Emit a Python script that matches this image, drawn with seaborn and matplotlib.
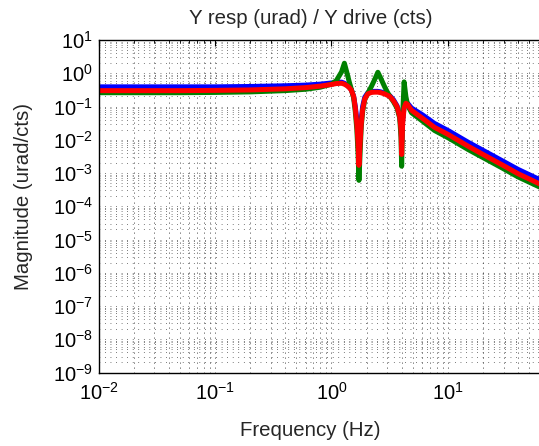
"""Bode magnitude plot: Y resp / Y drive."""

import matplotlib
matplotlib.use("Agg")
import matplotlib.pyplot as plt
import matplotlib.ticker as mticker
import pandas as pd
import seaborn as sns

# frequency points (Hz) shared by the three traces
freq = [0.01, 0.05, 0.1, 0.2, 0.4, 0.6, 0.8, 1.0, 1.1, 1.22, 1.29, 1.36, 1.42,
        1.48, 1.55, 1.6, 1.65, 1.69, 1.72, 1.76, 1.8, 1.85, 1.93, 2.05, 2.2,
        2.35, 2.5, 2.65, 2.85, 3.0, 3.17, 3.4, 3.65, 3.85, 3.95, 4.0, 4.08,
        4.2, 4.35, 4.5, 4.86, 6.0, 7.66, 10, 15, 20, 28.8, 40, 62, 100]

mag_blue = [0.39, 0.39, 0.39, 0.40, 0.42, 0.44, 0.47, 0.51, 0.53, 0.54, 0.50,
            0.44, 0.38, 0.32, 0.20, 0.10, 0.04, 0.012, 0.004, 0.012, 0.04,
            0.10, 0.19, 0.26, 0.28, 0.285, 0.285, 0.275, 0.255, 0.235, 0.21,
            0.16, 0.105, 0.055, 0.025, 0.008, 0.04, 0.10, 0.13, 0.125, 0.09,
            0.057, 0.031, 0.019, 0.0083, 0.0048, 0.0024, 0.00128, 0.00062,
            0.00025]

mag_green = [0.26, 0.26, 0.265, 0.275, 0.30, 0.33, 0.38, 0.47, 0.6, 1.1, 2.0,
             1.0, 0.55, 0.33, 0.18, 0.07, 0.02, 0.004, 0.0006, 0.004, 0.025,
             0.07, 0.16, 0.25, 0.4, 0.65, 1.07, 0.7, 0.4, 0.28, 0.2, 0.14,
             0.09, 0.045, 0.012, 0.0016, 0.05, 0.55, 0.2, 0.11, 0.065, 0.037,
             0.019, 0.0115, 0.005, 0.0029, 0.00145, 0.00076, 0.00037, 0.00015]

mag_red = [0.30, 0.30, 0.305, 0.315, 0.34, 0.37, 0.41, 0.46, 0.49, 0.50, 0.47,
           0.42, 0.37, 0.31, 0.20, 0.09, 0.03, 0.008, 0.0017, 0.008, 0.03,
           0.08, 0.17, 0.24, 0.265, 0.27, 0.27, 0.26, 0.24, 0.22, 0.20, 0.15,
           0.10, 0.05, 0.02, 0.0036, 0.03, 0.09, 0.125, 0.115, 0.077, 0.045,
           0.0236, 0.0145, 0.0063, 0.0036, 0.0018, 0.00095, 0.00046, 0.00018]

trace_names = ["blue", "green", "red"]
trace_colors = ["#0000ff", "#008000", "#ff0000"]

x_ticks = [1e-2, 1e-1, 1e0, 1e1]
y_ticks = [10.0 ** k for k in range(-9, 2)]


def main() -> None:
    sns.set_style("white")
    plt.rcParams["font.family"] = ["Liberation Sans", "DejaVu Sans"]
    plt.rcParams["mathtext.default"] = "regular"

    df = pd.DataFrame({"freq": freq, "blue": mag_blue,
                       "green": mag_green, "red": mag_red})
    long = df.melt(id_vars="freq", var_name="trace", value_name="mag")

    fig = plt.figure(figsize=(5.39, 4.46), dpi=100)
    # axes runs past the right edge of the picture, as in the original
    ax = fig.add_axes([98.5 / 539, 73.5 / 446, 466 / 539, 332.5 / 446])
    ax.set_xscale("log")
    ax.set_yscale("log")

    sns.lineplot(data=long, x="freq", y="mag", hue="trace",
                 hue_order=trace_names, palette=trace_colors,
                 linewidth=3.6, legend=False, sort=False, ax=ax)

    ax.set_xlim(1e-2, 1e2)
    ax.set_ylim(1e-9, 1e1)
    ax.xaxis.set_major_locator(mticker.FixedLocator(x_ticks))
    ax.yaxis.set_major_locator(mticker.FixedLocator(y_ticks))
    ax.xaxis.set_major_formatter(mticker.LogFormatterSciNotation())
    ax.yaxis.set_major_formatter(mticker.LogFormatterSciNotation())
    ax.xaxis.set_minor_locator(mticker.LogLocator(subs=range(2, 10), numticks=50))
    ax.yaxis.set_minor_locator(mticker.LogLocator(subs=range(2, 10), numticks=50))
    ax.yaxis.set_minor_formatter(mticker.NullFormatter())
    ax.xaxis.set_minor_formatter(mticker.NullFormatter())

    ax.grid(True, which="both", axis="x", color="black",
            linestyle=(0, (1, 5)), linewidth=0.6)
    ax.grid(True, which="both", axis="y", color="black",
            linestyle=(0, (1, 7)), linewidth=0.5)
    ax.tick_params(which="both", direction="in", top=True, right=True,
                   labelsize=14.5, colors="black")
    ax.tick_params(which="major", length=4, width=0.8)
    ax.tick_params(which="minor", length=2, width=0.6)
    ax.tick_params(axis="x", pad=7)
    ax.tick_params(axis="y", pad=4)
    for spine in ax.spines.values():
        spine.set_color("black")
        spine.set_linewidth(1.0)

    ax.set_title("Y resp (urad) / Y drive (cts)", fontsize=14.7,
                 x=0.456, y=1.048, pad=0)
    ax.set_xlabel("Frequency (Hz)", fontsize=14.7)
    ax.set_ylabel("Magnitude (urad/cts)", fontsize=14.7)
    ax.xaxis.set_label_coords(0.454, -0.146)
    ax.yaxis.set_label_coords(-0.1406, 0.528)

    fig.savefig("out.png", dpi=100)
    plt.close(fig)


if __name__ == "__main__":
    main()
